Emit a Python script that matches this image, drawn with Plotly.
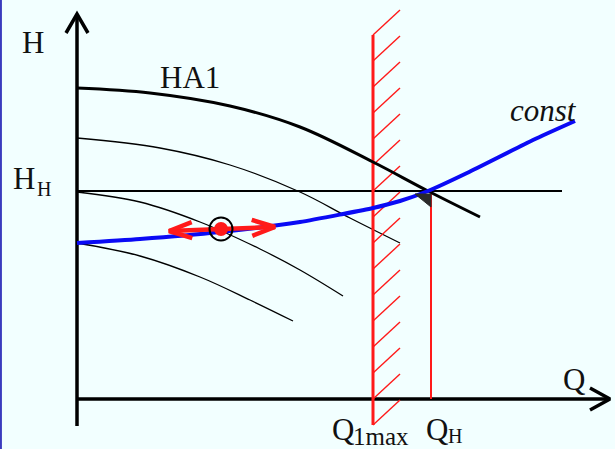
import numpy as np
import plotly.graph_objects as go

# ---- data (Q, H in chart units; origin at axes crossing) ----
ha1_q = [0, 73, 153, 223, 296, 351, 403]
ha1_h = [311, 306, 293, 272, 237, 208, 182]

c2_q = [0, 83, 153, 223, 273, 323]
c2_h = [261, 251, 234, 207, 181, 156]

c3_q = [0, 63, 123, 183, 223, 266]
c3_h = [207, 197, 177, 150, 129, 103]

c4_q = [0, 63, 123, 173, 216]
c4_h = [156, 143, 122, 99, 78]

const_q = [0, 63, 143, 223, 266, 296, 323, 351, 390, 456, 498]
const_h = [156, 160, 167, 177, 185, 191, 198, 208, 226, 259, 278]

H_nom = 208
Q_nom = 354
Q1max = 296
q_axis_end = 533
h_axis_end = 385
h_axis_start = -27
h_line_end = 485

point_q, point_h = 144, 170
arrow_q = [92, 198]
arrow_h = [168, 172]

BG = "#F2FFFF"
RED = "#FF1A1A"
BLUE = "#0A0AF5"
FONT = "Liberation Serif, Times New Roman, serif"

fig = go.Figure()

def line(x, y, color="black", width=1.3, shape="linear", smooth=None):
    ln = dict(color=color, width=width, shape=shape)
    if smooth is not None:
        ln["smoothing"] = smooth
    fig.add_trace(go.Scatter(x=x, y=y, mode="lines", line=ln, hoverinfo="skip", showlegend=False))

# axes
line([0, 0], [h_axis_start, h_axis_end], width=3.5)
line([0, q_axis_end], [0, 0], width=3.5)
# axis arrowheads (open chevrons)
line([-11, 0, 11], [h_axis_end - 19, h_axis_end, h_axis_end - 19], width=3.5)
line([q_axis_end - 20, q_axis_end, q_axis_end - 20], [11, 0, -11], width=3.5)

# nominal head line
line([0, h_line_end], [H_nom, H_nom], width=1.8)

# thin pump curves
line(c2_q, c2_h, width=1.3, shape="spline", smooth=1.0)
line(c3_q, c3_h, width=1.3, shape="spline", smooth=1.0)
line(c4_q, c4_h, width=1.3, shape="spline", smooth=1.0)

# Q1max hatched boundary
hatch_x, hatch_y = [], []
for h0 in np.arange(-26, 365, 26):
    hatch_x += [Q1max, Q1max + 27, None]
    hatch_y += [h0, h0 + 25, None]
fig.add_trace(go.Scatter(x=hatch_x, y=hatch_y, mode="lines", line=dict(color=RED, width=1.4),
                         hoverinfo="skip", showlegend=False))
line([Q1max, Q1max], [-26, 364], color=RED, width=3)

# Q nominal line
line([Q_nom, Q_nom], [0, H_nom], color=RED, width=2)

# HA1 curve
line(ha1_q, ha1_h, width=3, shape="spline", smooth=1.0)

# const curve
line(const_q, const_h, color=BLUE, width=4, shape="spline", smooth=0.6)

# dark triangle at operating point
fig.add_trace(go.Scatter(x=[Q_nom - 16, Q_nom, Q_nom, Q_nom - 16], y=[H_nom - 3, H_nom - 3, H_nom - 16, H_nom - 3],
                         mode="lines", fill="toself", fillcolor="#2a2a2a", line=dict(color="#2a2a2a", width=1),
                         hoverinfo="skip", showlegend=False))

# red double arrow
ax0 = np.array([arrow_q[0], arrow_h[0]], float)
ax1 = np.array([arrow_q[1], arrow_h[1]], float)
d = (ax1 - ax0) / np.linalg.norm(ax1 - ax0)
nrm = np.array([-d[1], d[0]])
L, W = 23, 8
lx = [ax0[0], ax1[0], None]
ly = [ax0[1], ax1[1], None]
for tip, s in ((ax0, 1), (ax1, -1)):
    w1 = tip + s * L * d + W * nrm
    w2 = tip + s * L * d - W * nrm
    lx += [w1[0], tip[0], w2[0], None]
    ly += [w1[1], tip[1], w2[1], None]
fig.add_trace(go.Scatter(x=lx, y=ly, mode="lines", line=dict(color=RED, width=4.5),
                         hoverinfo="skip", showlegend=False))

# operating point marker
fig.add_trace(go.Scatter(x=[point_q], y=[point_h], mode="markers",
                         marker=dict(size=23, color="rgba(0,0,0,0)", line=dict(color="black", width=2)),
                         hoverinfo="skip", showlegend=False))
fig.add_trace(go.Scatter(x=[point_q], y=[point_h], mode="markers",
                         marker=dict(size=14, color=RED, line=dict(width=0)),
                         hoverinfo="skip", showlegend=False))

def label(x, y, text, size=31, italic=False):
    fig.add_annotation(x=x, y=y, text=text, showarrow=False, xanchor="center", yanchor="middle",
                       font=dict(family=FONT, size=size, color="#111111",
                                 style="italic" if italic else "normal"))

label(-44, 357, "H")
label(113, 322, "HA1")
label(-53, 221, "H")
label(-33, 210, "Н", size=20)
label(466, 289, "const", italic=True)
label(497, 20, "Q")
label(266, -30, "Q")
label(304, -37, "1max", size=25)
label(360, -30, "Q")
label(378, -37, "Н", size=20)

# left border
fig.add_shape(type="line", xref="paper", yref="paper", x0=0.0015, x1=0.0015, y0=0, y1=1,
              line=dict(color="#3B3BBE", width=2))

fig.update_layout(
    width=615, height=449,
    margin=dict(l=0, r=0, t=0, b=0),
    paper_bgcolor=BG, plot_bgcolor=BG,
    xaxis=dict(range=[-77, 538], visible=False, fixedrange=True),
    yaxis=dict(range=[-50, 399], visible=False, fixedrange=True),
    showlegend=False,
)

fig.write_html("out.html", config={"displayModeBar": False},
               post_script="document.body.style.margin='0';document.body.style.padding='0';"
                           "document.body.style.background='" + BG + "';")
